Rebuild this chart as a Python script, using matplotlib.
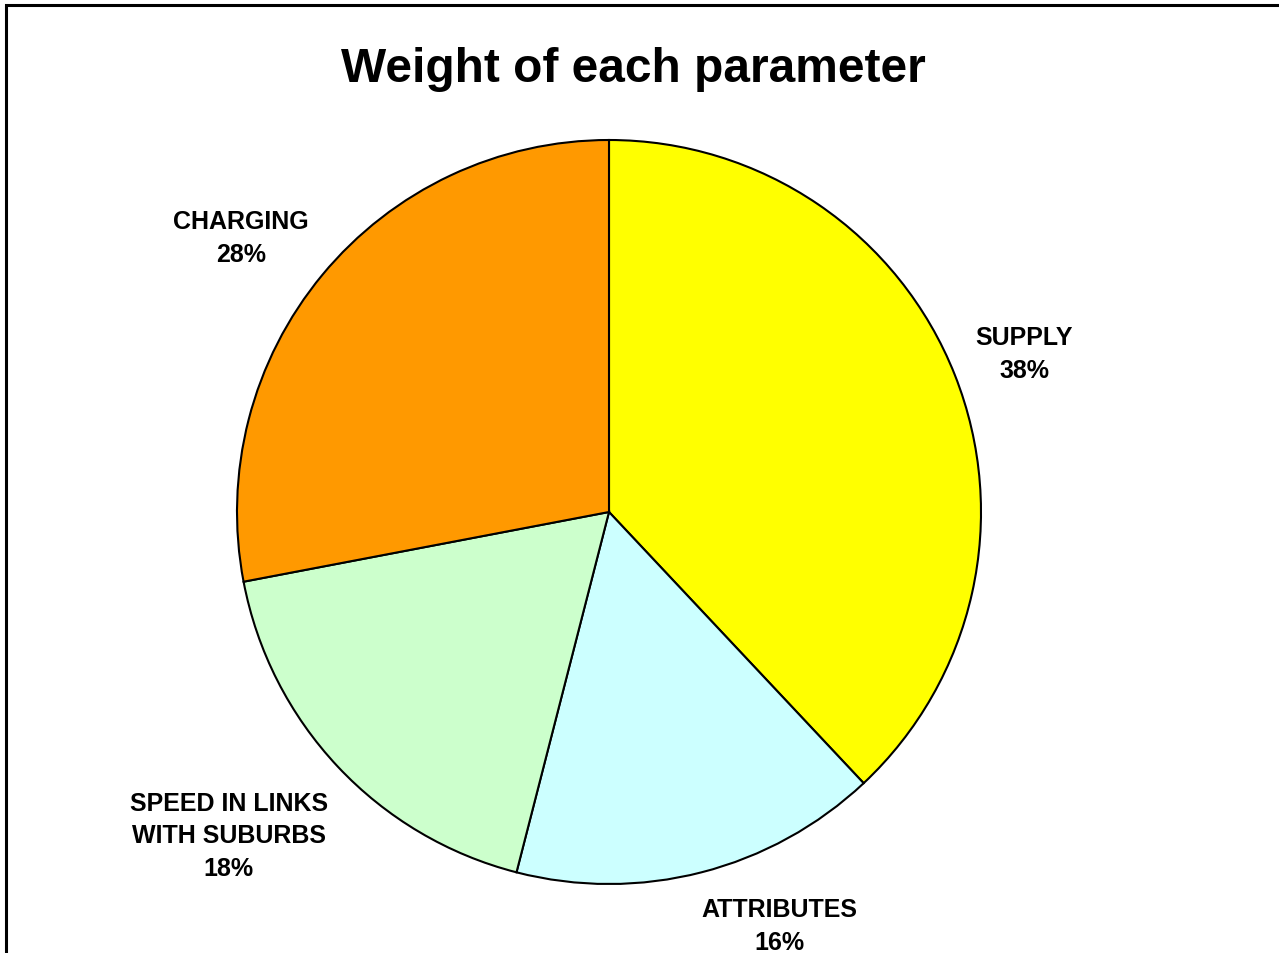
import matplotlib
matplotlib.use("Agg")
import matplotlib.pyplot as plt
from matplotlib.patches import Rectangle
import numpy as np

categories = ["SUPPLY", "ATTRIBUTES", "SPEED IN LINKS\nWITH SUBURBS", "CHARGING"]
weights = [38, 16, 18, 28]
colors = ["#FFFF00", "#CCFFFF", "#CCFFCC", "#FF9900"]
title = "Weight of each parameter"

# label placement: (radial distance in pie radii, angular nudge in degrees)
label_layout = [(1.195, -0.6), (1.20, 8.0), (1.34, -2.9), (1.236, 2.8)]

W, H, DPI = 1279, 954, 100
cx, cy, R = 609, 513, 372  # pie centre and radius in pixels

fig = plt.figure(figsize=(W / DPI, H / DPI), dpi=DPI)
fig.patch.set_facecolor("white")
ax = fig.add_axes([0, 0, 1, 1])

wedges, _ = ax.pie(weights, colors=colors, startangle=90, counterclock=False,
                   radius=1.0,
                   wedgeprops=dict(edgecolor="black", linewidth=1.5))

ax.set_aspect("auto")
ax.set_xlim(-cx / R, (W - cx) / R)
ax.set_ylim(-(H - cy) / R, cy / R)
ax.axis("off")

total = sum(weights)
for w, name, val, (dist, nudge) in zip(wedges, categories, weights, label_layout):
    mid = np.deg2rad((w.theta1 + w.theta2) / 2 + nudge)
    ax.text(dist * np.cos(mid), dist * np.sin(mid) - 1 / R,
            f"{name}\n{round(100 * val / total)}%",
            ha="center", va="center", multialignment="center",
            fontsize=18.0, fontweight="bold", family="Liberation Sans",
            linespacing=1.46)

fig.text(633 / W, 1 - 70 / H, title, ha="center", va="center",
         fontsize=34.5, fontweight="bold", family="Liberation Sans")

# outer chart frame
frame = Rectangle((6 / W, -0.05), 1.1, 1 - 5.5 / H + 0.05, transform=fig.transFigure,
                  fill=False, edgecolor="black", linewidth=2.2, clip_on=False)
fig.patches.append(frame)

fig.savefig("out.png", dpi=DPI)
